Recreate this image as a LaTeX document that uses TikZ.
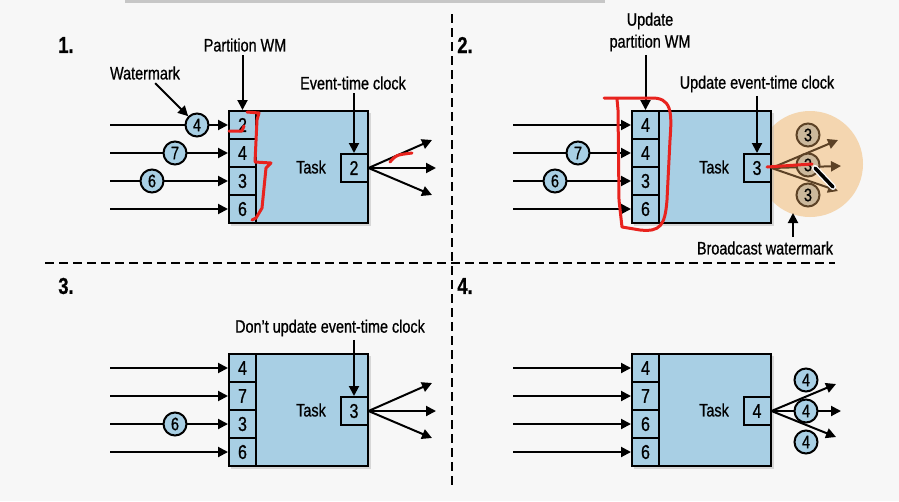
\documentclass[tikz,border=0pt]{standalone}
\usepackage{fontspec}
\setmainfont[FakeStretch=0.8,FakeBold=0.8]{Liberation Sans}
\usetikzlibrary{arrows.meta}
\definecolor{bg}{HTML}{F7F7F7}
\definecolor{boxblue}{HTML}{A8CFE4}
\definecolor{hilite}{HTML}{F4D6B0}
\definecolor{brownfill}{HTML}{CBB89C}
\definecolor{brownline}{HTML}{5C4226}
\definecolor{pen}{HTML}{E8231E}
\tikzset{
  arr/.style={line width=2pt,-{Triangle[length=10pt,width=10pt]}},
  taskbox/.style={draw,line width=2pt,fill=boxblue,minimum width=139pt,minimum height=112pt,inner sep=0pt},
  cellbox/.style={draw,line width=2pt,fill=boxblue,minimum width=27pt,minimum height=28pt,inner sep=0pt,font=\fontsize{20}{20}\selectfont},
  wm/.style={draw,circle,line width=2pt,fill=boxblue,minimum size=23pt,inner sep=0pt,font=\fontsize{18}{18}\selectfont},
  bwm/.style={wm,draw=brownline,fill=brownfill},
  lbl/.style={font=\fontsize{18}{19}\selectfont,align=center},
  num/.style={font=\fontsize{23}{23}\selectfont\bfseries},
  sep/.style={line width=2pt,dash pattern=on 9pt off 5pt},
  scrib/.style={pen,line width=3pt,line cap=round,line join=round},
}
\newcommand\taskpanel[8]{%
 \begin{scope}[shift={(#2,#3)}]
  \fill[black!30,opacity=.45] (231,113) rectangle (371,226);
  \node[taskbox] (#1box) at (298.5,167) {};
  \node[cellbox] (#1c1) at (242.5,125) {#4};
  \node[cellbox] (#1c2) at (242.5,153) {#5};
  \node[cellbox] (#1c3) at (242.5,181) {#6};
  \node[cellbox] (#1c4) at (242.5,209) {#7};
  \node[cellbox] (#1clk) at (354,168) {#8};
  \node[lbl] (#1task) at (311,167) {Task};
  \foreach \i/\yy in {1/125,2/153,3/181,4/209}{%
    \coordinate (#1s\i) at (110,\yy);
    \draw[arr] (#1s\i) -- (#1c\i.west);}
 \end{scope}}
\begin{document}
\begin{tikzpicture}[x=1pt,y=-1pt]
\useasboundingbox (0,0) rectangle (899,501);
\fill[bg] (0,0) rectangle (899,501);
\fill[black!22] (125,0) rectangle (605,3);
% separators
\coordinate (hl) at (45,263); \coordinate (hr) at (835,263);
\coordinate (vt) at (452,14); \coordinate (vb) at (452,487);
\draw[sep] (hl) -- (hr);
\draw[sep] (vt) -- (vb);
% ---------- panel 1
\node[num] (n1) at (66,45) {1.};
\taskpanel{p1}{0}{0}{2}{4}{3}{6}{2}
\node[wm] (p1w4) at (197,125) {4};
\node[wm] (p1w7) at (175,153) {7};
\node[wm] (p1w6) at (152,181) {6};
\node[lbl] (p1pwm) at (245,45) {Partition WM};
\draw[arr] (p1c1.north |- p1pwm.south) -- (p1c1.north);
\node[lbl] (p1wmk) at (145,73) {Watermark};
\draw[arr] (p1wmk) -- (p1w4.north west);
\node[lbl] (p1etc) at (353,83) {Event-time clock};
\draw[arr] (p1clk.north |- p1etc.south) -- (p1clk.north);
\coordinate (p1o1) at (432,140); \coordinate (p1o2) at (436,168); \coordinate (p1o3) at (432,195);
\foreach \k in {1,2,3}{\draw[arr] (p1clk.east) -- (p1o\k);}
% ---------- panel 2
\node[num] (n2) at (465,45) {2.};
\fill[hilite] (810,164) circle (53);
\taskpanel{p2}{403}{0}{4}{4}{3}{6}{3}
\node[wm] (p2w7) at (578,153) {7};
\node[wm] (p2w6) at (555,181) {6};
\node[lbl] (p2pwm) at (650,32) {Update\\[3pt]partition WM};
\draw[arr] (p2c1.north |- p2pwm.south) -- (p2c1.north);
\node[lbl] (p2etc) at (757,84) {Update event-time clock};
\draw[arr] (p2clk.north |- p2etc.south) -- (p2clk.north);
\coordinate (p2o1) at (838,140); \coordinate (p2o2) at (841,166); \coordinate (p2o3) at (838,191);
\foreach \k in {1,2,3}{\draw[arr,brownline] (p2clk.east) -- (p2o\k);}
\node[bwm] (p2b1) at (808,135) {3};
\node[bwm] (p2b2) at (808,165) {3};
\node[bwm] (p2b3) at (808,195) {3};
\node[lbl] (p2bw) at (765,248) {Broadcast watermark};
\coordinate (p2bwa) at (793,237);
\draw[arr] (p2bwa) -- (793,213);
% ---------- panel 3
\node[num] (n3) at (66,286) {3.};
\taskpanel{p3}{0}{243}{4}{7}{3}{6}{3}
\node[wm] (p3w6) at (175,424) {6};
\node[lbl] (p3etc) at (330,328) {Don't update event-time clock};
\draw[arr] (p3clk.north |- p3etc.south) -- (p3clk.north);
\coordinate (p3o1) at (432,383); \coordinate (p3o2) at (436,411); \coordinate (p3o3) at (432,438);
\foreach \k in {1,2,3}{\draw[arr] (p3clk.east) -- (p3o\k);}
% ---------- panel 4
\node[num] (n4) at (465,286) {4.};
\taskpanel{p4}{403}{243}{4}{7}{6}{6}{4}
\coordinate (p4o1) at (836,384); \coordinate (p4o2) at (841,411); \coordinate (p4o3) at (836,437);
\foreach \k in {1,2,3}{\draw[arr] (p4clk.east) -- (p4o\k);}
\node[wm] (p4b1) at (806,380) {4};
\node[wm] (p4b2) at (806,411) {4};
\node[wm] (p4b3) at (806,442) {4};
% ---------- hand annotations
\draw[scrib] (229,131) -- (242,131) -- (244,126);
\draw[scrib] (247,112) -- (259,113) -- (257,120) -- (255,162) -- (271,163) -- (266,168) -- (262,208) -- (256,218) -- (252,220);
\draw[scrib] (390,162) .. controls (396,155) .. (412,153);
\draw[scrib] (604,98) -- (650,98) .. controls (672,97) and (672,112) .. (670,140) -- (667,200) .. controls (665,226) and (660,232) .. (640,230) -- (622,227) -- (619,200) -- (618,110) -- (617,99);
\draw[scrib] (767,167) -- (812,164);
\draw[white,line width=6pt,line cap=round] (815,168) -- (833,187);
\draw[black,line width=3.5pt,line cap=round] (815,168) -- (833,187);
\end{tikzpicture}
\end{document}
